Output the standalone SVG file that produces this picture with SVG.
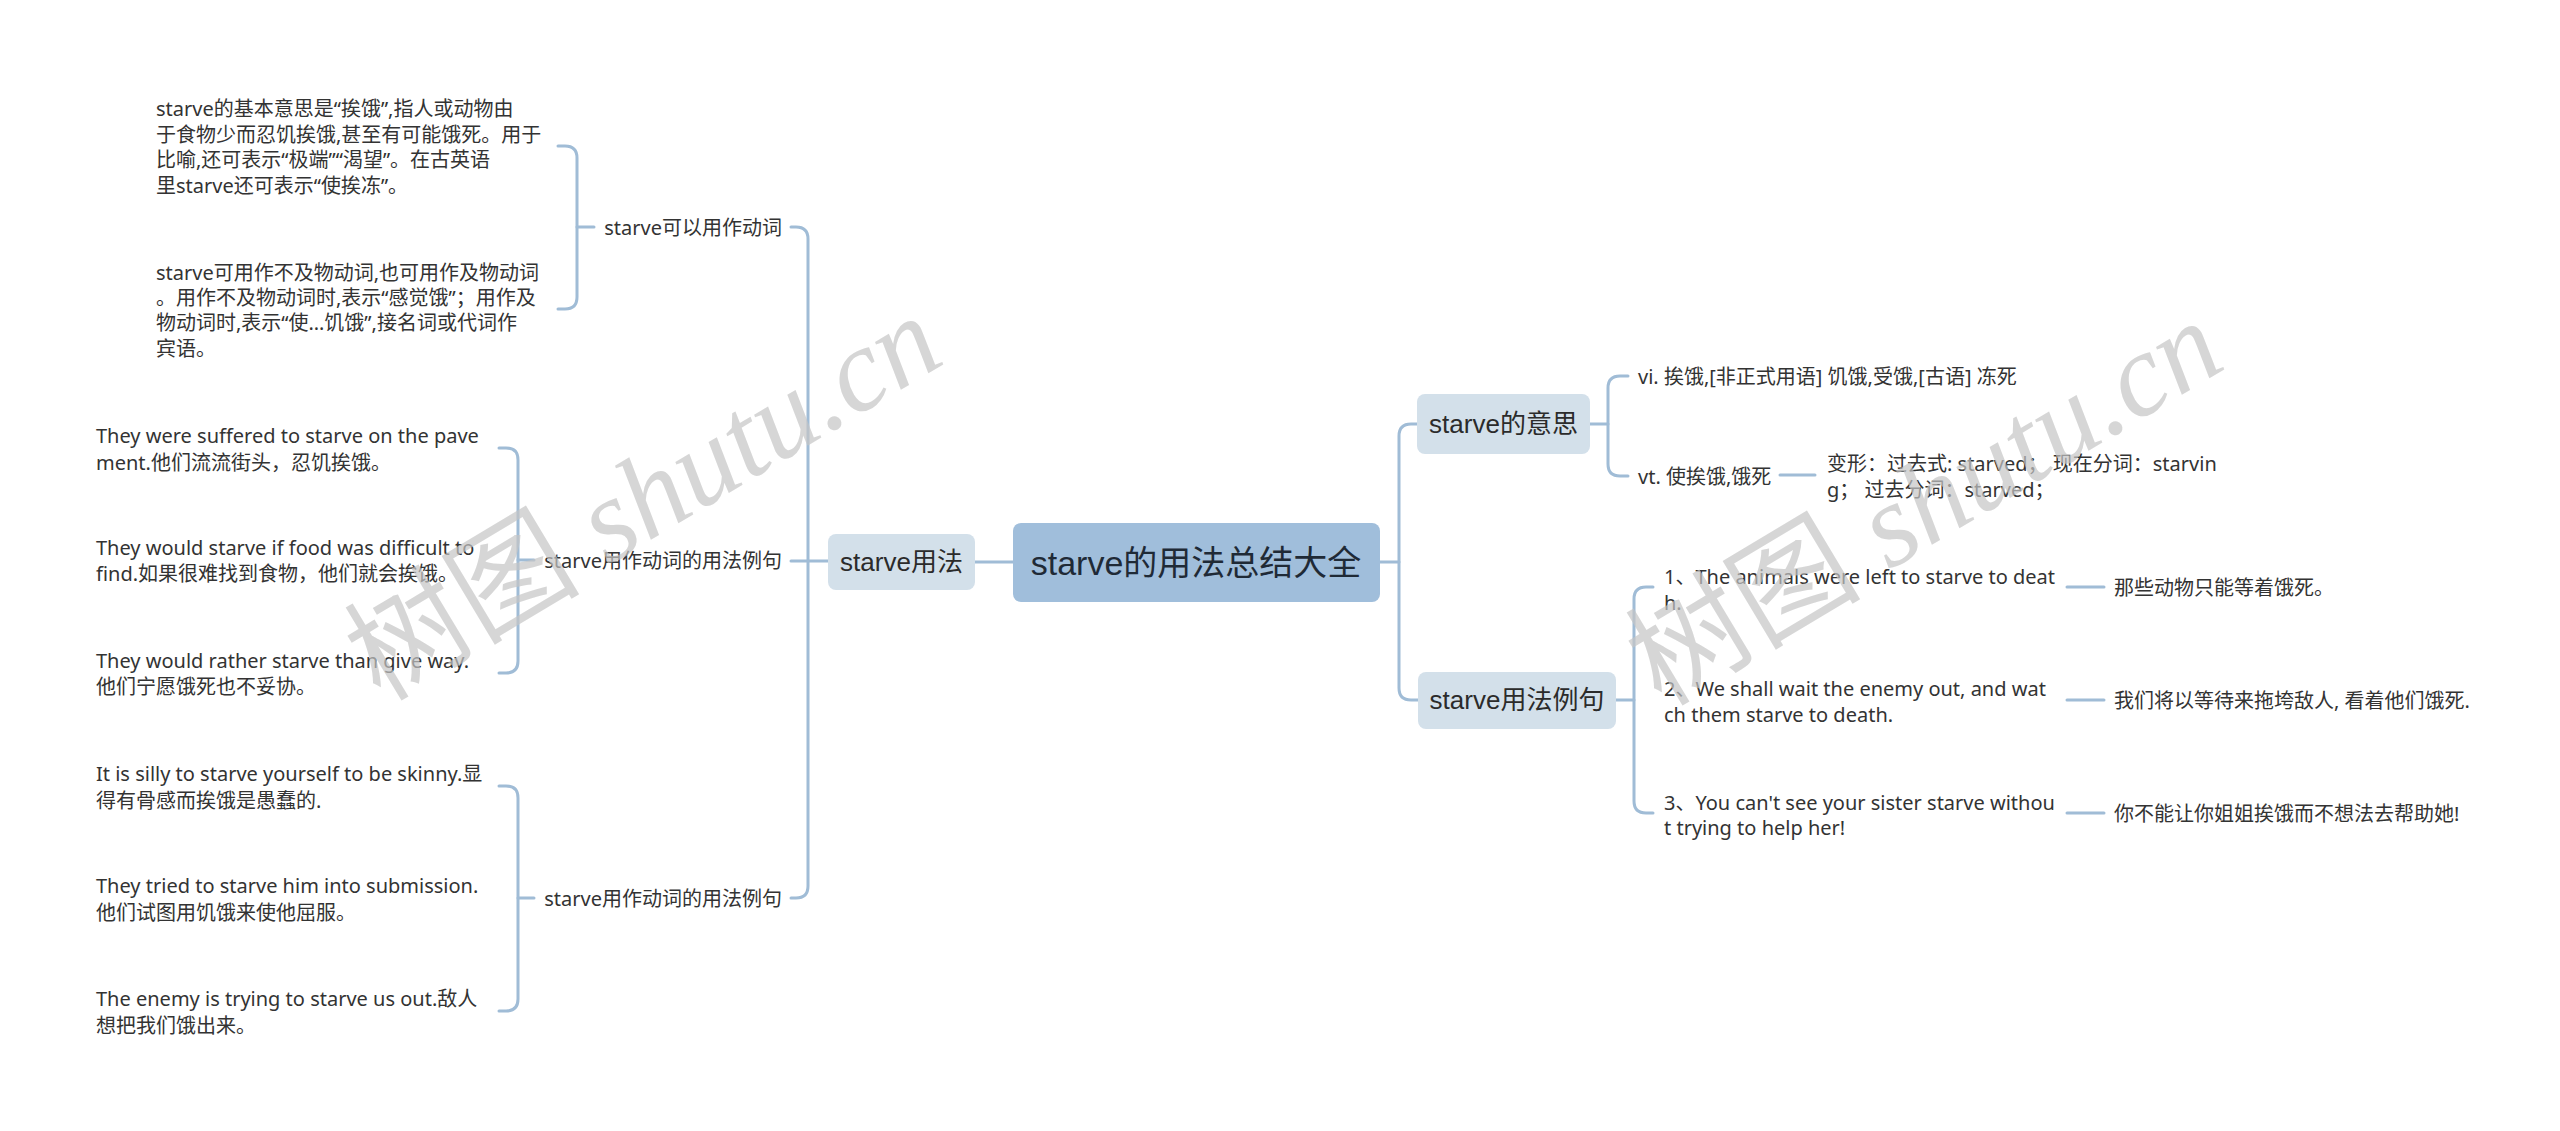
<svg xmlns="http://www.w3.org/2000/svg" width="2560" height="1131" viewBox="0 0 2560 1131">
<style>
.bg{fill:#ffffff}
.root{fill:#a0bedb;stroke:none}
.l1{fill:#d3e0ea;stroke:none}
.ln{fill:none;stroke:#a0bcd6;stroke-width:3;stroke-linecap:round;stroke-linejoin:round}
text{font-family:"Liberation Sans","Noto Sans CJK SC",sans-serif;dominant-baseline:central;fill:#333333}
.t0{font-size:34px;fill:#1f2a36}
.t1{font-size:26px;fill:#2b2b2b}
.t2{font-size:20px;font-family:"Noto Sans","Noto Sans CJK SC",sans-serif}
.wm{font-family:"Liberation Serif","Noto Sans CJK SC",serif;font-style:italic;font-size:118px;fill:#c4c4c4;fill-opacity:0.7;dominant-baseline:alphabetic}
.wm .cj{font-style:normal}
</style>
<rect class="bg" x="0" y="0" width="2560" height="1131"/>

<g id="connectors">
  <path class="ln" d="M1013,562 H975"/>
  <path class="ln" d="M791,227 H796 Q808,227 808,239 V886 Q808,898 796,898 H791"/>
  <path class="ln" d="M791,561 H828"/>
  <path class="ln" d="M558,146 H565 Q577,146 577,158 V297 Q577,309 565,309 H558"/>
  <path class="ln" d="M577,227 H594"/>
  <path class="ln" d="M499,448 H506 Q518,448 518,460 V661 Q518,673 506,673 H499"/>
  <path class="ln" d="M518,560 H534"/>
  <path class="ln" d="M499,786 H506 Q518,786 518,798 V999 Q518,1011 506,1011 H499"/>
  <path class="ln" d="M518,898 H534"/>
  <path class="ln" d="M1380,562 H1399"/>
  <path class="ln" d="M1417,424 H1411 Q1399,424 1399,436 V688 Q1399,700 1411,700 H1418"/>
  <path class="ln" d="M1590,424 H1608"/>
  <path class="ln" d="M1628,376 H1620 Q1608,376 1608,388 V464 Q1608,476 1620,476 H1628"/>
  <path class="ln" d="M1780,475 H1815"/>
  <path class="ln" d="M1616,700 H1634"/>
  <path class="ln" d="M1653,587 H1646 Q1634,587 1634,599 V801 Q1634,813 1646,813 H1653"/>
  <path class="ln" d="M2067,587 H2104"/>
  <path class="ln" d="M2067,700 H2104"/>
  <path class="ln" d="M2067,813 H2104"/>
</g>

<g id="root">
  <rect class="root" x="1013" y="523" width="367" height="79" rx="8"/>
  <text class="t0" x="1196" y="563" text-anchor="middle">starve的用法总结大全</text>
</g>

<g id="n-usage">
  <rect class="l1" x="828" y="534" width="147" height="56" rx="8"/>
  <text class="t1" x="901.5" y="562" text-anchor="middle">starve用法</text>
</g>
<g id="n-verb">
  <text class="t2" x="782" y="227" text-anchor="end">starve可以用作动词</text>
</g>
<g id="n-verb-a">
  <text class="t2" x="156" y="108">starve的基本意思是“挨饿”,指人或动物由</text>
  <text class="t2" x="156" y="134">于食物少而忍饥挨饿,甚至有可能饿死。用于</text>
  <text class="t2" x="156" y="159">比喻,还可表示“极端”“渴望”。在古英语</text>
  <text class="t2" x="156" y="185">里starve还可表示“使挨冻”。</text>
</g>
<g id="n-verb-b">
  <text class="t2" x="156" y="272">starve可用作不及物动词,也可用作及物动词</text>
  <text class="t2" x="156" y="297">。用作不及物动词时,表示“感觉饿”；用作及</text>
  <text class="t2" x="156" y="322">物动词时,表示“使…饥饿”,接名词或代词作</text>
  <text class="t2" x="156" y="348">宾语。</text>
</g>
<g id="n-ex1">
  <text class="t2" x="782" y="560" text-anchor="end">starve用作动词的用法例句</text>
</g>
<g id="n-ex1-a">
  <text class="t2" x="96" y="435">They were suffered to starve on the pave</text>
  <text class="t2" x="96" y="462">ment.他们流流街头，忍饥挨饿。</text>
</g>
<g id="n-ex1-b">
  <text class="t2" x="96" y="547">They would starve if food was difficult to</text>
  <text class="t2" x="96" y="573">find.如果很难找到食物，他们就会挨饿。</text>
</g>
<g id="n-ex1-c">
  <text class="t2" x="96" y="660">They would rather starve than give way.</text>
  <text class="t2" x="96" y="686">他们宁愿饿死也不妥协。</text>
</g>
<g id="n-ex2">
  <text class="t2" x="782" y="898" text-anchor="end">starve用作动词的用法例句</text>
</g>
<g id="n-ex2-a">
  <text class="t2" x="96" y="773">It is silly to starve yourself to be skinny.显</text>
  <text class="t2" x="96" y="800">得有骨感而挨饿是愚蠢的.</text>
</g>
<g id="n-ex2-b">
  <text class="t2" x="96" y="885">They tried to starve him into submission.</text>
  <text class="t2" x="96" y="912">他们试图用饥饿来使他屈服。</text>
</g>
<g id="n-ex2-c">
  <text class="t2" x="96" y="998">The enemy is trying to starve us out.敌人</text>
  <text class="t2" x="96" y="1025">想把我们饿出来。</text>
</g>

<g id="n-meaning">
  <rect class="l1" x="1417" y="394" width="173" height="60" rx="8"/>
  <text class="t1" x="1503.5" y="424" text-anchor="middle">starve的意思</text>
</g>
<g id="n-vi">
  <text class="t2" x="1638" y="376">vi. 挨饿,[非正式用语] 饥饿,受饿,[古语] 冻死</text>
</g>
<g id="n-vt">
  <text class="t2" x="1638" y="476">vt. 使挨饿,饿死</text>
</g>
<g id="n-forms">
  <text class="t2" x="1827" y="463">变形：过去式: starved；  现在分词：starvin</text>
  <text class="t2" x="1827" y="489">g；  过去分词：starved；</text>
</g>

<g id="n-examples">
  <rect class="l1" x="1418" y="672" width="198" height="57" rx="8"/>
  <text class="t1" x="1517" y="700" text-anchor="middle">starve用法例句</text>
</g>
<g id="n-e1">
  <text class="t2" x="1664" y="576">1、The animals were left to starve to deat</text>
  <text class="t2" x="1664" y="602">h.</text>
</g>
<g id="n-e1t">
  <text class="t2" x="2114" y="587">那些动物只能等着饿死。</text>
</g>
<g id="n-e2">
  <text class="t2" x="1664" y="688">2、We shall wait the enemy out, and wat</text>
  <text class="t2" x="1664" y="714">ch them starve to death.</text>
</g>
<g id="n-e2t">
  <text class="t2" x="2114" y="700">我们将以等待来拖垮敌人, 看着他们饿死.</text>
</g>
<g id="n-e3">
  <text class="t2" x="1664" y="802">3、You can't see your sister starve withou</text>
  <text class="t2" x="1664" y="827">t trying to help her!</text>
</g>
<g id="n-e3t">
  <text class="t2" x="2114" y="813">你不能让你姐姐挨饿而不想法去帮助她!</text>
</g>

<g id="watermark">
  <text class="wm" x="0" y="0" text-anchor="middle" transform="translate(664,532) rotate(-31)"><tspan class="cj">树图</tspan> shutu.cn</text>
  <text class="wm" x="0" y="0" text-anchor="middle" transform="translate(1945,537) rotate(-31)"><tspan class="cj">树图</tspan> shutu.cn</text>
</g>
</svg>
